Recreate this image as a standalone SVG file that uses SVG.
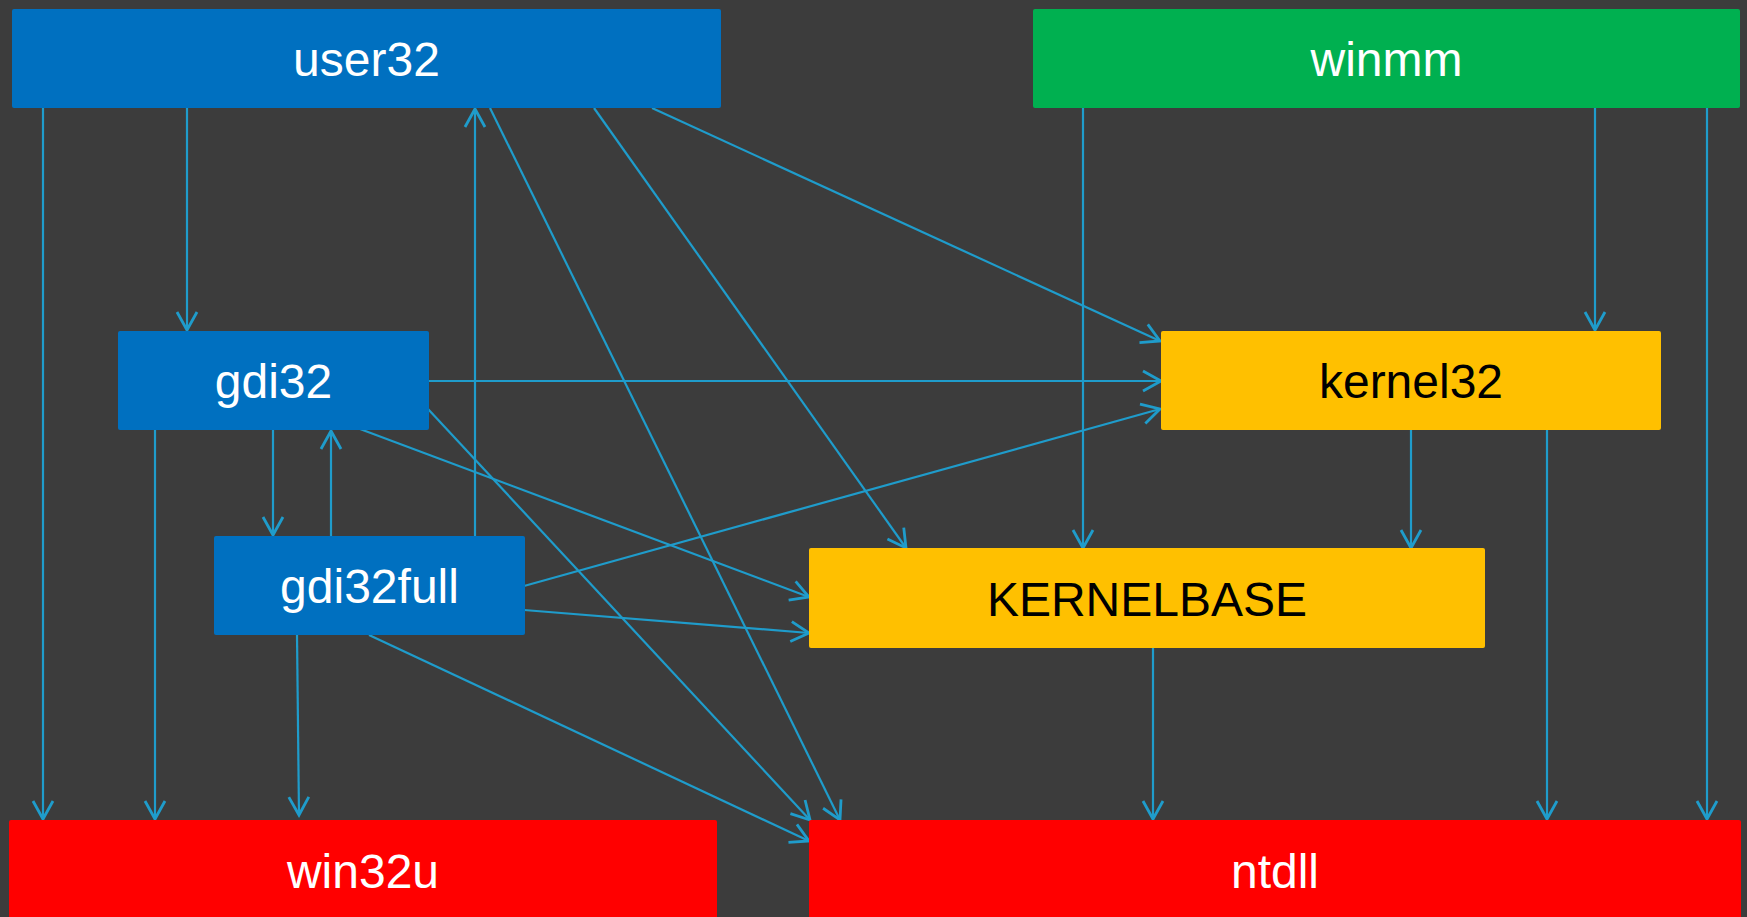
<svg xmlns="http://www.w3.org/2000/svg" width="1747" height="917" viewBox="0 0 1747 917">
<style>
.lbl{font-family:"Liberation Sans",Arial,sans-serif;font-size:48px;text-anchor:middle}
.w{fill:#ffffff}
.k{fill:#000000}
.c line{stroke:#1F9CCB;stroke-width:2.2;fill:none;marker-end:url(#ah)}
</style>
<defs>
<marker id="ah" markerUnits="userSpaceOnUse" markerWidth="40" markerHeight="40" viewBox="-20 -20 40 40" refX="0" refY="0" orient="auto">
<path d="M-18,-10 L0,0 L-18,10" fill="none" stroke="#1F9CCB" stroke-width="2.8"/>
</marker>
</defs>
<rect width="1747" height="917" fill="#3C3C3C"/>
<g id="connectors" class="c">
<line x1="43" y1="108" x2="43" y2="819"/>
<line x1="187" y1="108" x2="187" y2="330"/>
<line x1="155" y1="430" x2="155" y2="819"/>
<line x1="273" y1="430" x2="273" y2="535"/>
<line x1="331" y1="536" x2="331" y2="431"/>
<line x1="475" y1="536" x2="475" y2="109"/>
<line x1="297" y1="635" x2="299" y2="815"/>
<line x1="369" y1="635" x2="809" y2="841"/>
<line x1="428" y1="409" x2="810" y2="820"/>
<line x1="490" y1="108" x2="840" y2="820"/>
<line x1="594" y1="108" x2="906" y2="548"/>
<line x1="652" y1="108" x2="1160" y2="341"/>
<line x1="429" y1="381" x2="1161" y2="381"/>
<line x1="524" y1="586" x2="1160" y2="409"/>
<line x1="360" y1="429" x2="809" y2="597"/>
<line x1="524" y1="610" x2="809" y2="633"/>
<line x1="1083" y1="108" x2="1083" y2="548"/>
<line x1="1595" y1="108" x2="1595" y2="330"/>
<line x1="1707" y1="108" x2="1707" y2="819"/>
<line x1="1411" y1="430" x2="1411" y2="548"/>
<line x1="1547" y1="430" x2="1547" y2="819"/>
<line x1="1153" y1="648" x2="1153" y2="819"/>
</g>
<g id="user32"><rect x="12" y="9" width="709" height="99" rx="2" fill="#0070C0"/><text class="lbl w" x="366.5" y="76">user32</text></g>
<g id="winmm"><rect x="1033" y="9" width="707" height="99" rx="2" fill="#00B050"/><text class="lbl w" x="1386.5" y="76">winmm</text></g>
<g id="gdi32"><rect x="118" y="331" width="311" height="99" rx="2" fill="#0070C0"/><text class="lbl w" x="273.5" y="398">gdi32</text></g>
<g id="kernel32"><rect x="1161" y="331" width="500" height="99" rx="2" fill="#FFC000"/><text class="lbl k" x="1411" y="398">kernel32</text></g>
<g id="gdi32full"><rect x="214" y="536" width="311" height="99" rx="2" fill="#0070C0"/><text class="lbl w" x="369.5" y="603">gdi32full</text></g>
<g id="KERNELBASE"><rect x="809" y="548" width="676" height="100" rx="2" fill="#FFC000"/><text class="lbl k" x="1147" y="616">KERNELBASE</text></g>
<g id="win32u"><rect x="9" y="820" width="708" height="110" rx="2" fill="#FF0000"/><text class="lbl w" x="363" y="888">win32u</text></g>
<g id="ntdll"><rect x="809" y="820" width="932" height="110" rx="2" fill="#FF0000"/><text class="lbl w" x="1275" y="888">ntdll</text></g>
</svg>
